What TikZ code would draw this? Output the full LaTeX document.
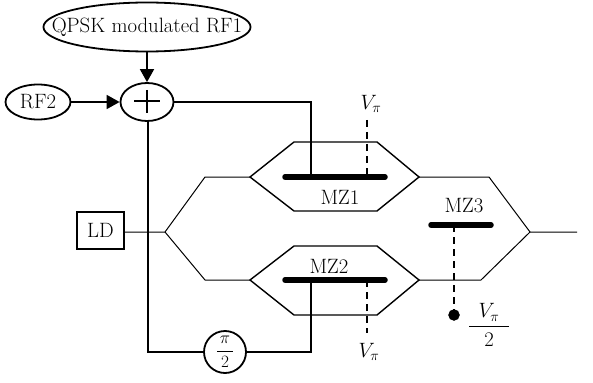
\documentclass[tikz,border=0pt]{standalone}
\usepackage{amsmath}
\usetikzlibrary{arrows.meta, shapes.geometric}

\tikzset{
	source/.style={draw, ellipse, line width=1.8pt, inner sep=0pt, font=\huge},
	wire/.style={line width=1.8pt},
	feed/.style={line width=1.8pt, -{Triangle[length=13pt, width=14pt]}},
	guide/.style={line width=1pt},
	arm/.style={line width=1.4pt, line join=miter},
	bar/.style={line width=5.5pt, line cap=round},
	bias/.style={line width=1.4pt, dash pattern=on 7pt off 5pt},
	label/.style={inner sep=0pt, font=\huge}
}

\begin{document}
\begin{tikzpicture}[x=1pt, y=-1pt]
	\useasboundingbox (0,0) rectangle (593,382);

	% Sources and combiner
	\node[source, inner xsep=-22pt, minimum width=202pt, minimum height=49pt] (rfone) at (147,27) {QPSK modulated RF1};
	\node[source, minimum width=65pt, minimum height=35pt] (rftwo) at (38,102) {RF2};
	\node[source, minimum width=53pt, minimum height=38pt] (adder) at (147,102) {};
	\draw[line width=1.2pt] (134,101) -- (160,101);
	\draw[line width=1.2pt] (147,90) -- (147,113);
	\node[draw, line width=1.8pt, minimum width=47pt, minimum height=37pt, font=\huge, inner sep=0pt] (laser) at (100.5,230.5) {LD};
	\node[draw, circle, line width=1.8pt, minimum size=42pt, inner sep=0pt, font=\LARGE] (shifter) at (225,352) {$\dfrac{\,\pi\,}{2}$};

	% Junctions of the waveguides
	\coordinate (split) at (165,232);
	\coordinate (upper) at (205,177);
	\coordinate (lower) at (205,280);
	\coordinate (oneleft) at (250,177);
	\coordinate (oneright) at (419,177);
	\coordinate (twoleft) at (250,280);
	\coordinate (tworight) at (419,280);
	\coordinate (upperout) at (489,177);
	\coordinate (lowerout) at (481,280);
	\coordinate (merge) at (530,232);
	\coordinate (output) at (577,232);

	% Waveguides
	\draw[guide] (laser.east |- split) -- (split) -- (upper) -- (oneleft);
	\draw[guide] (split) -- (lower) -- (twoleft);
	\draw[guide] (oneright) -- (upperout) -- (merge) -- (output);
	\draw[guide] (tworight) -- (lowerout) -- (merge);

	% Inner arms
	\draw[arm] (oneleft) -- (294,142) -- (377,142) -- (oneright) -- (377,211) -- (294,211) -- cycle;
	\draw[arm] (twoleft) -- (294,246) -- (377,246) -- (tworight) -- (377,315) -- (294,315) -- cycle;

	% Electrodes
	\coordinate (oneleg) at (311,177);
	\coordinate (twoleg) at (311,280);
	\draw[bar] (285,177) -- (385,177);
	\draw[bar] (285,280) -- (385,280);
	\draw[bar] (431,225) -- (491,225);

	% RF feeds
	\draw[feed] (rfone) -- (adder);
	\draw[feed] (rftwo) -- (adder);
	\draw[wire] (adder.east) -- (oneleg |- adder.east) -- (oneleg);
	\draw[wire] (148,120) |- (shifter.west);
	\draw[wire] (shifter.east) -| (twoleg);

	% Bias voltages
	\node[label] (vone) at (371,104) {$V_{\pi}$};
	\node[label] (vtwo) at (369,352) {$V_{\pi}$};
	\node[label] (vthree) at (489,325) {$\dfrac{\;\,V_{\pi}\;\,}{2}$};
	\node[draw, circle, fill=black, minimum size=11pt, inner sep=0pt] (biasdot) at (454,315) {};
	\draw[bias] (367,120) -- (367,177);
	\draw[bias] (367,280) -- (367,333);
	\draw[bias] (454,225) -- (biasdot);

	% Modulator names
	\node[label] (mzone) at (340,197) {MZ1};
	\node[label] (mztwo) at (329,266) {MZ2};
	\node[label] (mzthree) at (464,206) {MZ3};
\end{tikzpicture}
\end{document}
